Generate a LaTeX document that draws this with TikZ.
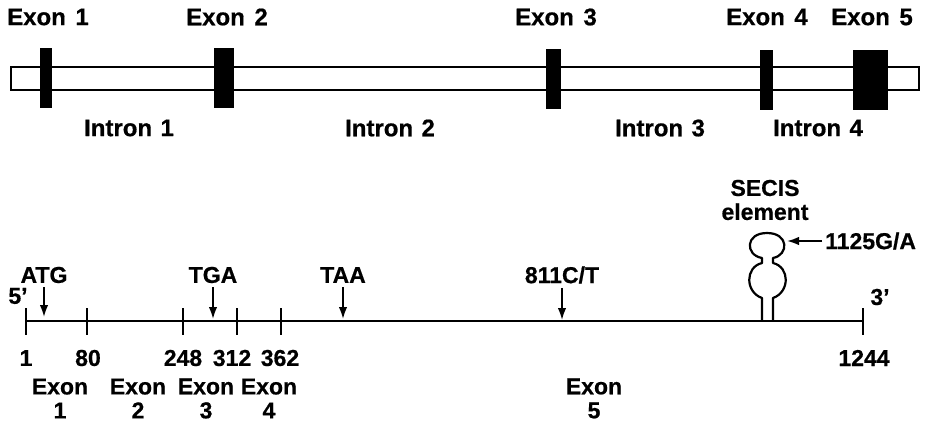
\documentclass[tikz,border=0pt]{standalone}
\usepackage{fontspec}
\setmainfont{Liberation Sans}[BoldFeatures={FakeBold=0.6}]
\usetikzlibrary{arrows.meta}
\begin{document}
\begin{tikzpicture}[x=1pt,y=-1pt,
 lbl/.style={font=\fontsize{23}{24}\selectfont\bfseries, inner sep=0pt, align=center},
 toplbl/.style={lbl, font=\fontsize{24}{25}\selectfont\bfseries},
 exonblk/.style={fill=black, draw=none, inner sep=0pt},
 ptr/.style={line width=1.8pt, -{Latex[length=12pt,width=8.5pt]}},
 tickmark/.style={line width=2.2pt}]
\useasboundingbox (0,0) rectangle (931,424);
% ---- gene structure ----
\node[draw, fill=white, line width=1.8pt, minimum width=908pt, minimum height=23pt, inner sep=0pt, anchor=north west] (bar) at (10,66) {};
\node[exonblk, minimum width=12pt, minimum height=60pt] (e1) at (46,78) {};
\node[exonblk, minimum width=20pt, minimum height=60pt] (e2) at (224,78) {};
\node[exonblk, minimum width=15pt, minimum height=60pt] (e3) at (553.5,79) {};
\node[exonblk, minimum width=13pt, minimum height=60pt] (e4) at (766.5,80) {};
\node[exonblk, minimum width=35pt, minimum height=60pt] (e5) at (870.5,80) {};
\node[toplbl] (x1) at (48,17) {Exon\hspace{0.4em}1};
\node[toplbl] (x2) at (227,17) {Exon\hspace{0.4em}2};
\node[toplbl] (x3) at (556,17) {Exon\hspace{0.4em}3};
\node[toplbl] (x4) at (767,17) {Exon\hspace{0.4em}4};
\node[toplbl] (x5) at (872,17) {Exon\hspace{0.4em}5};
\node[toplbl] (i1) at (129,128) {Intron\hspace{0.35em}1};
\node[toplbl] (i2) at (390,128) {Intron\hspace{0.35em}2};
\node[toplbl] (i3) at (660,128) {Intron\hspace{0.35em}3};
\node[toplbl] (i4) at (818,128) {Intron\hspace{0.35em}4};
% ---- mRNA line ----
\coordinate (L0) at (26,321);
\coordinate (L1) at (863,321);
\draw[line width=2.4pt] (L0) -- (L1);
\foreach \p in {26,87,183,237,281,863}
  \draw[tickmark] (\p,308) -- (\p,335);
\node[lbl] (p5) at (18,296) {5’};
\node[lbl] (p3) at (880,297) {3’};
\node[lbl] (n1) at (26,358) {1};
\node[lbl] (n80) at (88,358) {80};
\node[lbl] (n248) at (183,358) {248};
\node[lbl] (n312) at (232,358) {312};
\node[lbl] (n362) at (280,358) {362};
\node[lbl] (n1244) at (864,358) {1244};
\node[lbl] (b1) at (60,398.5) {Exon\\1};
\node[lbl] (b2) at (138,398.5) {Exon\\2};
\node[lbl] (b3) at (206,398.5) {Exon\\3};
\node[lbl] (b4) at (269,398.5) {Exon\\4};
\node[lbl] (b5) at (594,398.5) {Exon\\5};
% ---- markers ----
\node[lbl] (atg) at (44,275) {ATG};
\node[lbl] (tga) at (213,275) {TGA};
\node[lbl] (taa) at (343,275) {TAA};
\node[lbl] (snp811) at (562,275) {811C/T};
\coordinate (atgT) at (44,317);
\coordinate (tgaT) at (213,319);
\coordinate (taaT) at (343,319);
\coordinate (snpT) at (562,320);
\draw[ptr, shorten <=4pt] (atg) -- (atgT);
\draw[ptr, shorten <=4pt] (tga) -- (tgaT);
\draw[ptr, shorten <=4pt] (taa) -- (taaT);
\draw[ptr, shorten <=4pt] (snp811) -- (snpT);
% ---- SECIS element ----
\draw[line width=2.2pt, line join=round] (762,321) -- (762,298)
  .. controls (745,292) and (745,267) .. (762,263) -- (762,258)
  .. controls (745,255) and (745,233) .. (767,233)
  .. controls (789,233) and (789,255) .. (773,258) -- (773,263)
  .. controls (790,267) and (790,292) .. (773,298) -- (773,321);
\node[lbl] (secis) at (765,200) {SECIS\\element};
\node[lbl, anchor=west] (g1125) at (825,241) {1125G/A};
\coordinate (loopR) at (787,241);
\draw[ptr, shorten <=3pt] (g1125) -- (loopR);
\end{tikzpicture}
\end{document}
